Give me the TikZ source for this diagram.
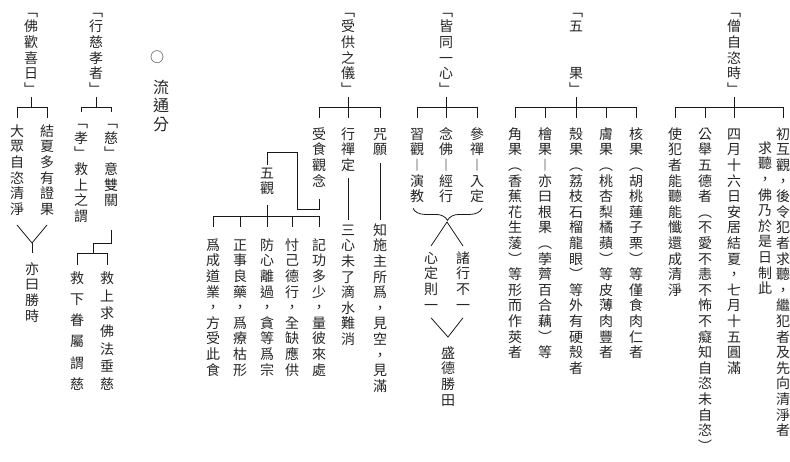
\documentclass[tikz,border=0pt]{standalone}
\usepackage{fontspec}
\setmainfont{Noto Sans CJK TC}
\usetikzlibrary{decorations.pathreplacing}

% one character under the other, fixed pitch
\makeatletter
\def\vcol@loop#1{\ifx#1\relax\else\hbox to 1em{\hss\smash{#1}\hss}\expandafter\vcol@loop\fi}
\newcommand\vcol[2][15.6pt]{\vbox{\baselineskip=#1\relax\lineskiplimit=-\maxdimen\lineskip=0pt\kern.88em\vcol@loop#2\relax\kern.12em}}
\makeatother

\tikzset{
  col/.style={inner sep=0pt, outer sep=0pt, anchor=north, text=black!85,
    font=\fontsize{14pt}{14pt}\selectfont},
  link/.style={line width=.8pt, black!90},
}

\begin{document}
\begin{tikzpicture}[x=1pt, y=-1pt]
\useasboundingbox (0,0) rectangle (790,461);
\fill[white] (0,0) rectangle (790,461);
\coordinate (bar) at (0,107);

% headings
\node[col] (hsz) at (734,4) {\vcol{﹁僧自恣時﹂}};
\node[col] (hgf) at (576,4) {\vcol{﹁五　　果﹂}};
\node[col] (hjx) at (446,4) {\vcol{﹁皆同一心﹂}};
\node[col] (hsg) at (348,4) {\vcol{﹁受供之儀﹂}};
\node[col] (hxc) at (96,4) {\vcol{﹁行慈孝者﹂}};
\node[col] (hfh) at (31,4) {\vcol{﹁佛歡喜日﹂}};
\node[text=black!85, font=\fontsize{14pt}{14pt}\selectfont] (ring) at (157,57) {○};
\node[col, font=\fontsize{16pt}{16pt}\selectfont] (ltf) at (161,79) {\vcol[18.5pt]{流通分}};

% 僧自恣時
\node[col] (sz1) at (783,127) {\vcol{初互觀，後令犯者求聽，繼犯者及先向清淨者}};
\node[col] (sz1b) at (765,141) {\vcol{求聽，佛乃於是日制此}};
\node[col] (sz2) at (734,127) {\vcol{四月十六日安居結夏，七月十五圓滿}};
\node[col] (sz3) at (705,127) {\vcol{公舉五德者︵不愛不恚不怖不癡知自恣未自恣︶}};
\node[col] (sz4) at (675,127) {\vcol{使犯者能聽能懺還成清淨}};
\draw[link] ([yshift=-1pt]hsz.south) -- ([yshift=9pt]sz2.north);
\draw[link] ([yshift=9pt]sz1.north) -- (sz1.north |- bar) -- (sz4.north |- bar) -- ([yshift=9pt]sz4.north);
\draw[link] (sz3.north |- bar) -- ([yshift=9pt]sz3.north);

% 五果
\node[col] (gf1) at (636,127) {\vcol{核果︵胡桃蓮子栗︶等僅食肉仁者}};
\node[col] (gf2) at (606,127) {\vcol{膚果︵桃杏梨橘蘋︶等皮薄肉豐者}};
\node[col] (gf3) at (576,127) {\vcol{殼果︵荔枝石榴龍眼︶等外有硬殼者}};
\node[col] (gf4) at (545,127) {\vcol{檜果︱亦曰根果︵荸薺百合藕︶等}};
\node[col] (gf5) at (515,127) {\vcol{角果︵香蕉花生蔆︶等形而作莢者}};
\draw[link] ([yshift=-1pt]hgf.south) -- ([yshift=9pt]gf3.north);
\draw[link] ([yshift=9pt]gf1.north) -- (gf1.north |- bar) -- (gf5.north |- bar) -- ([yshift=9pt]gf5.north);
\foreach \c in {gf2,gf4} \draw[link] (\c.north |- bar) -- ([yshift=9pt]\c.north);

% 皆同一心
\node[col] (jx1) at (477,127) {\vcol{參禪︱入定}};
\node[col] (jx2) at (446,127) {\vcol{念佛︱經行}};
\node[col] (jx3) at (417,127) {\vcol{習觀︱演教}};
\node[col] (zx1) at (463,251) {\vcol{諸行不一}};
\node[col] (zx2) at (431,251) {\vcol{心定則一}};
\node[col] (sdt) at (448,346) {\vcol{盛德勝田}};
\draw[link] ([yshift=-1pt]hjx.south) -- ([yshift=9pt]jx2.north);
\draw[link] ([yshift=9pt]jx1.north) -- (jx1.north |- bar) -- (jx3.north |- bar) -- ([yshift=9pt]jx3.north);
\draw[link, decorate, decoration={brace, amplitude=12pt}]
  ([xshift=5pt,yshift=-5pt]jx1.south) -- ([xshift=-4pt,yshift=-5pt]jx3.south);
\coordinate (lam) at (447,222);
\coordinate (vee) at (448,337);
\draw[link] ([yshift=5pt]zx2.north) -- (lam) -- ([yshift=5pt]zx1.north);
\draw[link] ([yshift=-6pt]zx2.south) -- (vee) -- ([yshift=-6pt]zx1.south);

% 受供之儀
\node[col] (sg3) at (380,127) {\vcol{咒願}};
\node[col] (sg3b) at (380,223) {\vcol{知施主所爲，見空，見滿}};
\node[col] (sg2) at (348,127) {\vcol{行禪定}};
\node[col] (sg2b) at (348,223) {\vcol{三心未了滴水難消}};
\node[col] (sg1) at (319,127) {\vcol{受食觀念}};
\node[col] (wu) at (267,166) {\vcol{五觀}};
\node[col] (wu1) at (319,238) {\vcol{記功多少，量彼來處}};
\node[col] (wu2) at (292,238) {\vcol{忖己德行，全缺應供}};
\node[col] (wu3) at (267,238) {\vcol{防心離過，貪等爲宗}};
\node[col] (wu4) at (240,238) {\vcol{正事良藥，爲療枯形}};
\node[col] (wu5) at (213,238) {\vcol{爲成道業，方受此食}};
\draw[link] ([yshift=-1pt]hsg.south) -- ([yshift=9pt]sg2.north);
\draw[link] ([yshift=9pt]sg1.north) -- (sg1.north |- bar) -- (sg3.north |- bar) -- ([yshift=9pt]sg3.north);
\draw[link, shorten <=6pt, shorten >=3pt] (sg3.south) -- (sg3b.north);
\draw[link, shorten <=6pt, shorten >=3pt] (sg2.south) -- (sg2b.north);
\draw[link] ([yshift=-11pt]sg1.south) |- (297,209) |- ([yshift=14pt]wu.north) -- ([yshift=1pt]wu.north);
\coordinate (bwu) at (0,216);
\draw[link] ([yshift=-9pt]wu.south) -- ([yshift=11pt]wu3.north);
\draw[link] ([yshift=11pt]wu1.north) -- (wu1.north |- bwu) -- (wu5.north |- bwu) -- ([yshift=11pt]wu5.north);
\foreach \c in {wu2,wu4} \draw[link] (\c.north |- bwu) -- ([yshift=11pt]\c.north);

% 行慈孝者
\node[col] (xc1) at (111,115.4) {\vcol{﹁慈﹂意雙關}};
\node[col] (xc2) at (81,115.4) {\vcol{﹁孝﹂救上之謂}};
\node[col] (xc4) at (107,271) {\vcol[17.7pt]{救上求佛法垂慈}};
\node[col] (xc3) at (77,271) {\vcol[21.2pt]{救下眷屬謂慈}};
\draw[link] ([yshift=-1pt]hxc.south) -- (hxc.south |- bar);
\draw[link] ([yshift=3pt]xc1.north) -- (xc1.north |- bar) -- (xc2.north |- bar) -- ([yshift=3pt]xc2.north);
\coordinate (bxc) at (93,253);
\draw[link] ([yshift=-22.6pt]xc1.south) -- ++(0,13) -| (bxc);
\draw[link] ([yshift=6pt]xc3.north) -- (xc3.north |- bxc) -- (xc4.north |- bxc) -- ([yshift=6pt]xc4.north);

% 佛歡喜日
\node[col] (fh1) at (17,124) {\vcol{大眾自恣清淨}};
\node[col] (fh2) at (47,124) {\vcol{結夏多有證果}};
\node[col] (fh3) at (32,262) {\vcol{亦曰勝時}};
\draw[link] ([yshift=-1pt]hfh.south) -- (hfh.south |- bar);
\draw[link] ([yshift=6pt]fh1.north) -- (fh1.north |- bar) -- (fh2.north |- bar) -- ([yshift=6pt]fh2.north);
\coordinate (yfh) at (32,243);
\draw[link] ([yshift=-9pt]fh1.south) -- (yfh) -- ([yshift=-9pt]fh2.south);
\draw[link] (yfh) -- ([yshift=9pt]fh3.north);
\end{tikzpicture}
\end{document}
